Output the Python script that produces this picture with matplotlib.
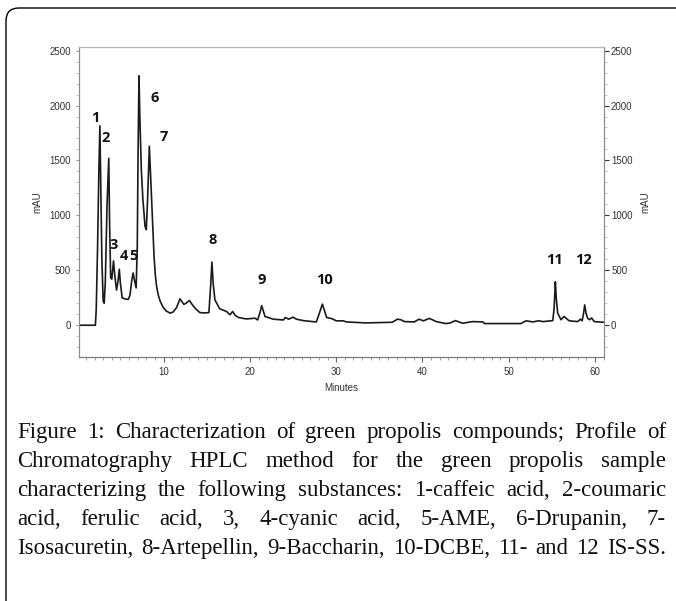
import matplotlib
matplotlib.use('agg')
import matplotlib.pyplot as plt
from matplotlib.ticker import MultipleLocator
from matplotlib.patches import FancyBboxPatch

# chromatogram trace (minutes, mAU)
time_min = [0.2, 2.1, 2.2, 2.35, 2.5, 2.62, 2.72, 2.85, 3.0, 3.12, 3.25, 3.45, 3.65, 3.75, 3.87,
	4.0, 4.2, 4.35, 4.55, 4.72, 4.87, 5.0, 5.2, 5.5, 5.9, 6.1, 6.3, 6.47, 6.6, 6.82, 6.95,
	7.05, 7.15, 7.25, 7.42, 7.6, 7.85, 8.0, 8.15, 8.35, 8.5, 8.66, 8.8, 8.9, 9.05, 9.2, 9.4,
	9.6, 9.97, 10.3, 10.75, 11.1, 11.5, 11.9, 12.35, 12.6, 13.0, 13.3, 13.65, 14.2, 14.8,
	15.25, 15.45, 15.6, 15.75, 15.95, 16.5, 17.3, 17.7, 18.0, 18.3, 18.7, 19.6, 20.6, 20.9,
	21.15, 21.37, 21.55, 21.75, 22.7, 23.9, 24.1, 24.5, 25.0, 25.4, 26.2, 27.0, 27.7, 28.1,
	28.4, 28.65, 28.9, 29.5, 30.0, 30.8, 31.2, 31.9, 33.45, 36.5, 37.1, 37.5, 37.9, 39.05,
	39.6, 40.1, 40.8, 41.6, 42.7, 43.2, 43.8, 44.65, 45.8, 47.0, 47.2, 51.4, 52.0, 52.8,
	53.4, 54.0, 55.1, 55.25, 55.4, 55.5, 55.67, 56.05, 56.4, 57.0, 58.0, 58.3, 58.5, 58.65,
	58.8, 58.95, 59.14, 59.35, 59.6, 59.9, 61.0]
mau = [0, 0, 150, 700, 1400, 1815, 1300, 600, 220, 200, 400, 1100, 1520, 900, 430,
	420, 585, 450, 320, 400, 510, 380, 250, 240, 235, 270, 400, 475, 420, 340, 700,
	1600, 2270, 1900, 1420, 1150, 900, 870, 1150, 1630, 1350, 1050, 800, 620, 450, 350, 270,
	220, 160, 130, 110, 120, 160, 240, 190, 200, 225, 190, 155, 115, 112,
	115, 350, 575, 380, 230, 150, 125, 95, 125, 90, 70, 57, 64, 48,
	110, 178, 130, 80, 55, 48, 70, 55, 73, 55, 42, 35, 30, 120,
	192, 130, 70, 60, 40, 40, 30, 27, 21, 27, 55, 50, 33, 30,
	55, 40, 62, 33, 15, 20, 42, 18, 33, 30, 15, 15, 40, 30,
	40, 33, 42, 150, 395, 250, 110, 50, 80, 40, 33, 55, 40, 100,
	185, 110, 64, 50, 66, 33, 27]

# peak numbers and where they are written
peak_names = ['1', '2', '3', '4', '5', '6', '7', '8', '9', '10', '11', '12']
peak_label_t = [2.13, 3.24, 4.25, 5.37, 6.54, 8.92, 10.0, 15.64, 21.4, 28.6, 55.27, 58.68]
peak_label_v = [1890, 1704, 733, 633, 633, 2069, 1717, 773, 414, 414, 596, 596]

x_ticks = [10, 20, 30, 40, 50, 60]
y_ticks = [0, 500, 1000, 1500, 2000, 2500]

caption = [
	"Figure 1: Characterization of green propolis compounds; Profile of",
	"Chromatography HPLC method for the green propolis sample",
	"characterizing the following substances: 1-caffeic acid, 2-coumaric",
	"acid, ferulic acid, 3, 4-cyanic acid, 5-AME, 6-Drupanin, 7-",
	"Isosacuretin, 8-Artepellin, 9-Baccharin, 10-DCBE, 11- and 12 IS-SS.",
]

W, H = 676, 601
fig = plt.figure(figsize=(W/100, H/100), dpi=100)
ax = fig.add_axes([79/W, 1-357.3/H, 524.7/W, 310/H])

ax.plot(time_min, mau, color='#1a1a1a', lw=1.2)
for n, t, v in zip(peak_names, peak_label_t, peak_label_v):
	ax.text(t, v, n, ha='center', va='center', fontsize=10.5, fontweight='bold',
		family='Open Sans', color='#111111')

ax.set_xlim(0.2, 61.0)
ax.set_ylim(-292, 2530)
ax.set_xticks(x_ticks)
ax.set_yticks(y_ticks)
ax.xaxis.set_minor_locator(MultipleLocator(1))
ax.yaxis.set_minor_locator(MultipleLocator(100))

tickfont = {'family': 'Liberation Sans', 'size': 7}
ax.set_xticklabels([str(v) for v in x_ticks], **tickfont)
ax.set_yticklabels([str(v) for v in y_ticks], **tickfont)
ax.tick_params(axis='both', colors='#333333')
ax.tick_params(axis='x', which='major', length=3.6, pad=3.5, color='#666666')
ax.tick_params(axis='x', which='minor', length=2.0, color='#888888')
ax.tick_params(axis='y', which='major', length=2.2, pad=3.6, color='#999999')
ax.tick_params(axis='y', which='minor', length=2.2, color='#bbbbbb')
ax.set_xlabel('Minutes', fontsize=7, family='Liberation Sans', color='#333333', labelpad=4)
ax.set_ylabel('mAU', fontsize=7, family='Liberation Sans', color='#333333', labelpad=5)

# right hand axis is a copy of the left one
ax2 = ax.twinx()
ax2.set_ylim(ax.get_ylim())
ax2.set_yticks(y_ticks)
ax2.set_yticklabels([str(v) for v in y_ticks], **tickfont)
ax2.yaxis.set_minor_locator(MultipleLocator(100))
ax2.tick_params(axis='y', which='major', length=3.6, pad=1.7, color='#333333', labelcolor='#333333')
ax2.tick_params(axis='y', which='minor', length=2.2, color='#bbbbbb')
ax2.set_ylabel('mAU', fontsize=7, family='Liberation Sans', color='#333333', labelpad=6)

for a in (ax, ax2):
	a.spines['left'].set_color('#8c8c8c')
	a.spines['right'].set_color('#8c8c8c')
	a.spines['bottom'].set_color('#7a7a7a')
	a.spines['top'].set_color('#b5b5b5')
	for s in a.spines.values():
		s.set_linewidth(0.8)

# frame: only top and left edges show, rounded corner top-left
box = FancyBboxPatch((6, -60), 760, H-8+60, boxstyle='round,pad=0,rounding_size=13',
	transform=None, fill=False, edgecolor='black', lw=1.0)
fig.patches.append(box)

# justified caption
fig.canvas.draw()
r = fig.canvas.get_renderer()
left, right = 17, 666
baselines = [438, 467, 496, 525, 554]
for line, yb in zip(caption, baselines):
	words = line.split()
	ts = [fig.text(0, 1-yb/H, w, fontsize=16.5, family='Liberation Serif', color='#111111', va='baseline')
		for w in words]
	widths = [t.get_window_extent(r).width for t in ts]
	gap = (right-left-sum(widths))/(len(words)-1)
	x = left
	for t, w in zip(ts, widths):
		t.set_x(x/W)
		x += w+gap

fig.savefig('out.png', dpi=100)
